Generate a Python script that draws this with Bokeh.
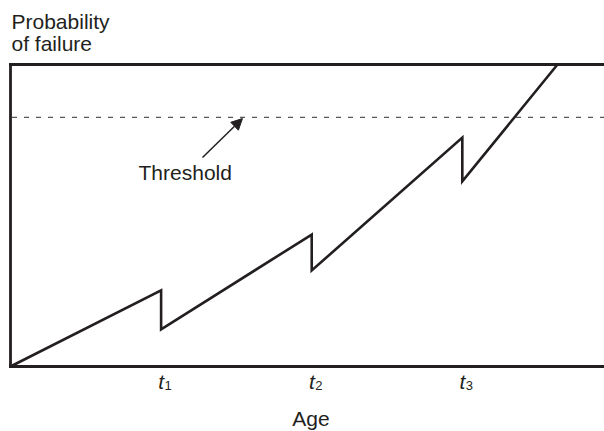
from bokeh.plotting import figure
from bokeh.models import Range1d, Label, Arrow, NormalHead
from bokeh.embed import file_html
from bokeh.resources import INLINE

# ---- data ----
ages = [0.0, 1.0, 1.0, 2.0, 2.0, 3.0, 3.0, 3.632]
prob = [0.0, 0.252, 0.123, 0.437, 0.318, 0.758, 0.613, 1.0]
threshold = 0.825
tick_ages = [1, 2, 3]
tick_subs = ["1", "2", "3"]
x_label = "Age"
y_label = ["Probability", "of failure"]
threshold_label = "Threshold"

INK = "#231f20"
FONT = "Liberation Sans"

# the data box: age from 0 to AGE_END, probability from 0 to 1
X0, X1 = -0.0664, 3.944
Y0, Y1 = -0.2152, 1.2119
AGE_END = X1
P_TOP = 1.0

p = figure(width=604, height=431, output_backend="svg", toolbar_location=None,
           x_range=Range1d(X0, X1), y_range=Range1d(Y0, Y1),
           min_border=0)
p.axis.visible = False
p.grid.visible = False
p.outline_line_color = None
p.background_fill_color = "white"
p.border_fill_color = "white"

# frame (left, top, bottom)
p.segment(x0=[0, 0, 0], y0=[0, P_TOP, 0], x1=[AGE_END, AGE_END, 0], y1=[0, P_TOP, P_TOP],
          line_color=INK, line_width=2.8, line_cap="square")

# threshold
p.segment(x0=[0.01], y0=[threshold], x1=[AGE_END], y1=[threshold],
          line_color="#555555", line_width=1.1, line_dash="5 7")

# probability curve
p.line(ages, prob, line_color=INK, line_width=2.6, line_join="miter")

# arrow to threshold
p.add_layout(Arrow(end=NormalHead(size=11, fill_color=INK, line_color=INK),
                   x_start=1.275, y_start=0.692, x_end=1.540, y_end=0.821,
                   line_color=INK, line_width=1.5))

p.add_layout(Label(x=0.850, y=0.6424, text=threshold_label, text_font=FONT,
                   text_font_size="21px", text_color=INK, text_baseline="alphabetic"))

# y label (two lines)
p.add_layout(Label(x=0.0066, y=1.1424, text=y_label[0], text_font=FONT,
                   text_font_size="21px", text_color=INK, text_baseline="alphabetic"))
p.add_layout(Label(x=0.0066, y=1.0695, text=y_label[1], text_font=FONT,
                   text_font_size="21px", text_color=INK, text_baseline="alphabetic"))

# x label
p.add_layout(Label(x=1.995, y=-0.1722, text=x_label, text_font=FONT,
                   text_font_size="21px", text_color=INK, text_align="center",
                   text_baseline="alphabetic"))

# tick labels t1, t2, t3
for t, s in zip(tick_ages, tick_subs):
    p.add_layout(Label(x=t, y=-0.0497, x_offset=3, text="t", text_font=FONT,
                       text_font_size="21px", text_font_style="italic", text_color=INK,
                       text_align="right", text_baseline="alphabetic"))
    p.add_layout(Label(x=t, y=-0.0629, x_offset=3.5, text=s, text_font=FONT,
                       text_font_size="13px", text_color=INK,
                       text_align="left", text_baseline="alphabetic"))

open("out.html", "w").write(file_html(p, INLINE))
